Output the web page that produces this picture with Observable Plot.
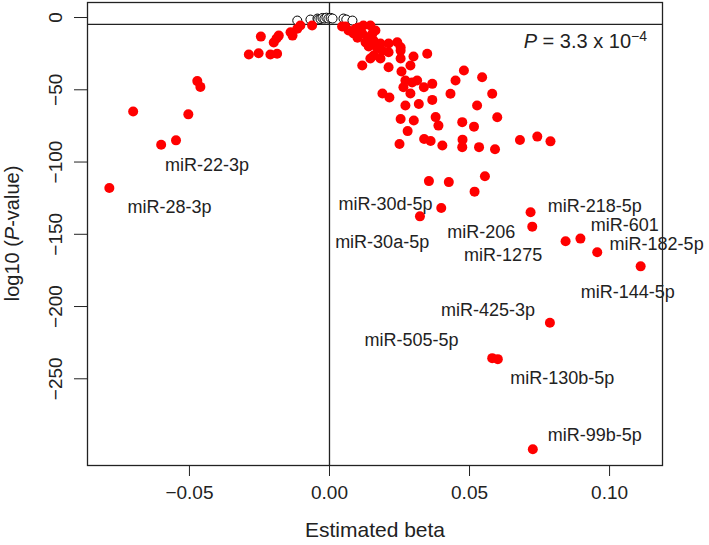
<!DOCTYPE html>
<html><head><meta charset="utf-8">
<script src="https://cdn.jsdelivr.net/npm/d3@7"></script>
<script src="https://cdn.jsdelivr.net/npm/@observablehq/plot@0.6"></script>
<style>body{margin:0;background:#fff} svg{display:block}</style>
</head><body><div id="chart"></div>
<script>
// Significant miRNAs (red)
const betaSig = [-0.0786,-0.0701,-0.0601,-0.0548,-0.0504,-0.0472,-0.0461,-0.0288,-0.0253,-0.0211,-0.0187,-0.0245,-0.0199,-0.0189,-0.0181,-0.0139,-0.0132,-0.0115,-0.0104,-0.0062,
 0.0045,0.0093,0.0121,0.0146,0.0086,0.0117,0.0135,0.0153,0.0164,0.0157,0.0182,0.0211,0.0242,0.0188,0.0211,0.0158,0.0146,0.0182,0.0117,0.0211,
 0.0254,0.0254,0.0300,0.0289,0.0349,0.0254,0.0257,0.0271,0.0295,0.0264,0.0313,0.0289,0.0337,0.0367,0.0189,0.0214,0.0271,0.0319,0.0367,0.0432,
 0.0450,0.0480,0.0545,0.0581,0.0527,0.0599,0.0254,0.0301,0.0379,0.0389,0.0474,0.0516,0.0279,0.0250,0.0338,0.0361,0.0403,0.0475,0.0474,0.0534,
 0.0591,0.0680,0.0742,0.0789,0.0555,0.0355,0.0426,0.0518,0.0399,0.0323,0.0718,0.0724,0.0843,0.0896,0.0956,0.1111,0.0787,0.0581,0.0601,0.0726,
 0.0068,0.0104,0.0129,0.0057,0.0100,0.0170,0.0140];
const logpSig = [-118,-65,-88,-85,-67,-44,-48,-25.6,-24.7,-25.6,-25.1,-13.2,-17.3,-14.5,-12.5,-10.2,-12.5,-7.8,-5.5,-5.5,
 -6.2,-7.8,-5.5,-5.5,-11.1,-11.1,-13.6,-11.3,-9.0,-15.9,-18.0,-18.0,-17.1,-22.9,-24.0,-26.3,-28.4,-28.4,-33.2,-34.4,
 -22.9,-28.4,-27.0,-33.2,-25.1,-20.6,-37.4,-43.6,-45.0,-48.3,-43.6,-52.6,-48.3,-45.9,-52.6,-55.4,-60.9,-59.8,-57.0,-52.8,
 -43.6,-36.7,-41.3,-52.8,-60.9,-69.0,-70.2,-71.3,-68.9,-74.8,-72.4,-75.5,-78.6,-87.5,-84.0,-85.5,-88.6,-84.5,-89.7,-89.7,
 -91.1,-84.7,-82.4,-85.7,-109.8,-113.2,-113.9,-120.5,-131.8,-137.6,-134.8,-144.7,-154.8,-153.0,-162.4,-172.2,-211.2,-235.7,-236.4,-298.7,
 -9.0,-6.9,-17.3,-6.2,-14,-21,-20];
// Non-significant miRNAs (open circles)
const betaNS = [-0.0115,-0.0068,-0.0043,-0.0040,-0.0032,-0.0025,-0.0018,-0.0011,-0.0004,0.0004,0.0011,0.0050,0.0060,0.0082];
const logpNS = [-2.1,-1.4,-0.7,-1.4,-1.0,-0.3,-0.7,-0.1,-0.7,-0.3,-0.7,-0.7,-1.4,-2.1];
// Labels (placed in data units)
const labelNames = ["miR-22-3p","miR-28-3p","miR-30d-5p","miR-30a-5p","miR-206","miR-218-5p","miR-601","miR-182-5p","miR-1275","miR-144-5p","miR-425-3p","miR-505-5p","miR-130b-5p","miR-99b-5p"];
const labelBeta = [-0.0437,-0.0571,0.0200,0.0188,0.0542,0.0947,0.1054,0.1168,0.0620,0.1065,0.0566,0.0293,0.0831,0.0947];
const labelLogp = [-102.5,-131.6,-129.5,-155.6,-148.7,-130.9,-143.4,-157.2,-164.8,-190.2,-202.9,-223.2,-249.5,-289.0];
const xTicks = [-0.05, 0, 0.05, 0.10];
const yTicks = [0, -50, -100, -150, -200, -250];
const threshold = -4.7;
const pValueText = {coef: "3.3", exp: "−4"};

const sig = betaSig.map((b, i) => ({beta: b, logp: logpSig[i]}));
const ns = betaNS.map((b, i) => ({beta: b, logp: logpNS[i]}));
const labels = labelNames.map((n, i) => ({name: n, beta: labelBeta[i], logp: labelLogp[i]}));

const font = "Liberation Sans, Arial, Helvetica, sans-serif";
const ink = "#222";

const plot = Plot.plot({
  width: 709, height: 545,
  marginLeft: 87, marginRight: 47, marginTop: 2, marginBottom: 80,
  style: {fontFamily: font, fontSize: "18px", color: ink, background: "white"},
  x: {domain: [-0.0864, 0.1189], nice: false},
  y: {domain: [-310, 10.4], nice: false},
  marks: [
    Plot.ruleX([0], {stroke: ink, strokeWidth: 1.3}),
    Plot.ruleY([threshold], {stroke: ink, strokeWidth: 1.3}),
    Plot.dot(ns, {x: "beta", y: "logp", r: 4.5, stroke: "black", fill: "white", strokeWidth: 1}),
    Plot.dot(sig, {x: "beta", y: "logp", r: 5, fill: "#ff0000", stroke: "none"}),
    Plot.text(labels, {x: "beta", y: "logp", text: "name", fontSize: 18, fill: ink, textAnchor: "middle", lineAnchor: "middle"}),
    Plot.frame({stroke: ink, strokeWidth: 1.3}),
    Plot.axisX({ticks: xTicks, tickSize: 11, tickPadding: 9, tickFormat: d3.format(".2f"), fontSize: 19, label: null, stroke: ink}),
    Plot.axisY({ticks: yTicks, tickSize: 13, tickFormat: () => "", label: null, stroke: ink}),
    Plot.text(yTicks, {y: d => d, frameAnchor: "left", dx: -32, rotate: -90, text: d => d3.format("d")(d), fontSize: 19, fill: ink, textAnchor: "middle", lineAnchor: "middle"}),
    Plot.text(["Estimated beta"], {frameAnchor: "bottom", dy: 65, fontSize: 21, fill: ink, lineAnchor: "middle"})
  ]
});

const svg = d3.select(plot);
const xs = plot.scale("x"), ys = plot.scale("y");
const xRight = Math.max(...xs.range);
const yTop = Math.min(...ys.range);
const yMid = (ys.range[0] + ys.range[1]) / 2;

// P annotation (top-right inside the frame)
const pt = svg.append("text")
  .attr("x", xRight - 15).attr("y", yTop + 46)
  .attr("text-anchor", "end").attr("fill", ink)
  .style("font-family", font).style("font-size", "20px");
pt.append("tspan").style("font-style", "italic").text("P");
pt.append("tspan").text(" = " + pValueText.coef + " x 10");
pt.append("tspan").attr("dy", "-0.5em").style("font-size", "14px").text(pValueText.exp);

// Y axis title with italic P
const yt = svg.append("text")
  .attr("transform", `translate(14,${yMid}) rotate(-90)`)
  .attr("text-anchor", "middle").attr("dominant-baseline", "middle").attr("fill", ink)
  .style("font-family", font).style("font-size", "20px");
yt.append("tspan").text("log10 (");
yt.append("tspan").style("font-style", "italic").text("P");
yt.append("tspan").text("-value)");

document.getElementById("chart").appendChild(plot);
</script></body></html>
